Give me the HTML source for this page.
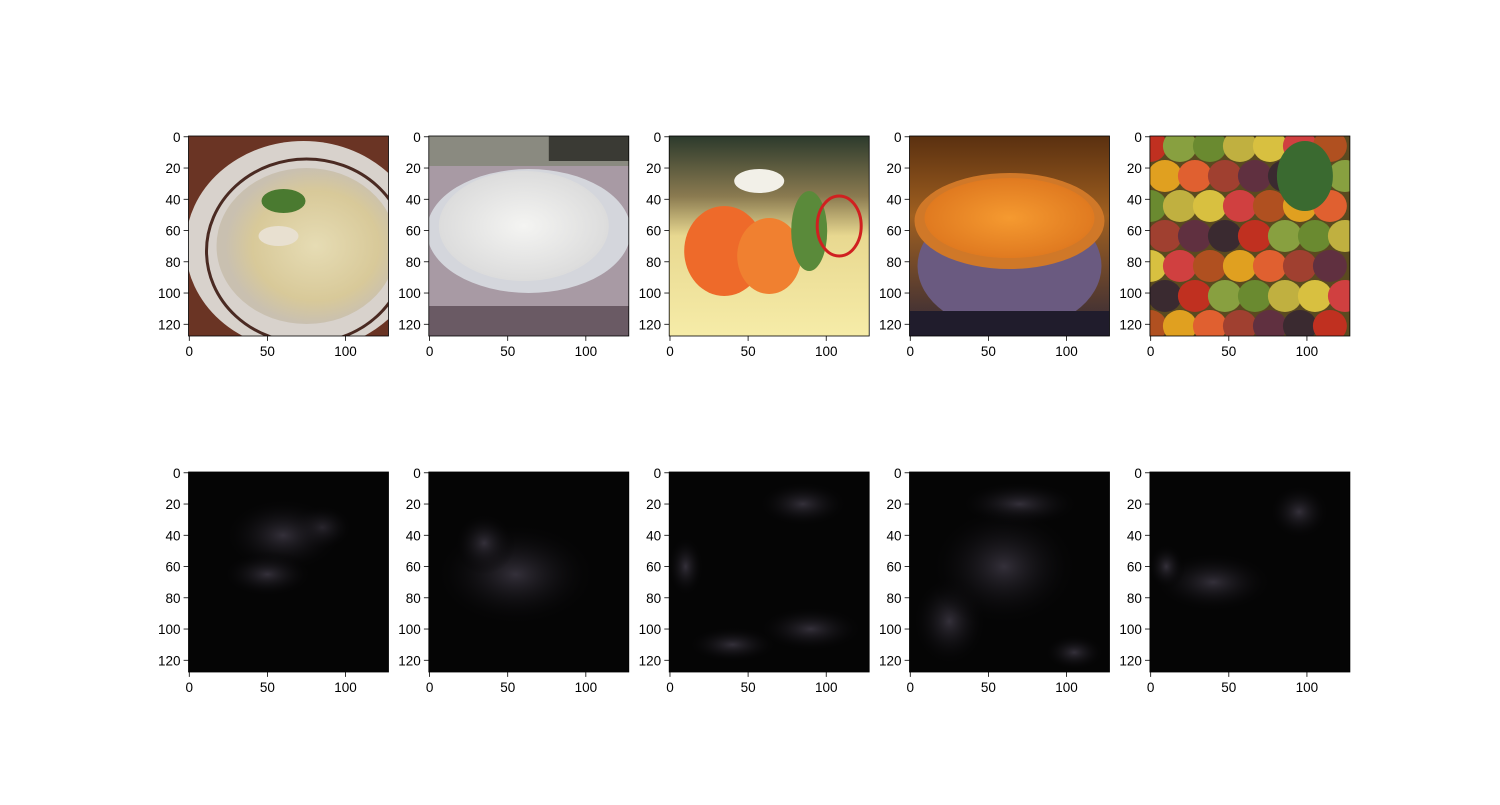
<!DOCTYPE html>
<html><head><meta charset="utf-8"><style>
body{margin:0;background:#fff;}
svg text{font-family:"Liberation Sans","DejaVu Sans",sans-serif;font-size:13.5px;fill:#000;}
</style></head><body>
<svg id="fig" width="1500" height="800" xmlns="http://www.w3.org/2000/svg">
<defs>
<radialGradient id="gPasta" cx="0.55" cy="0.5" r="0.5"><stop offset="0" stop-color="#e6dcb4"/><stop offset="0.7" stop-color="#d8c999"/><stop offset="1" stop-color="#c9c0b0"/></radialGradient>
<radialGradient id="gRice" cx="0.5" cy="0.5" r="0.5"><stop offset="0" stop-color="#f4f4f2"/><stop offset="1" stop-color="#dcdcdc"/></radialGradient>
<linearGradient id="gSalBg" x1="0" y1="0" x2="0" y2="1"><stop offset="0" stop-color="#2c3a2c"/><stop offset="0.3" stop-color="#8a7a50"/><stop offset="0.5" stop-color="#e8d890"/><stop offset="1" stop-color="#f6eca8"/></linearGradient>
<linearGradient id="gSoupBg" x1="0" y1="0" x2="0" y2="1"><stop offset="0" stop-color="#5a3010"/><stop offset="0.4" stop-color="#a06020"/><stop offset="1" stop-color="#302838"/></linearGradient>
<radialGradient id="gSoup" cx="0.5" cy="0.5" r="0.5"><stop offset="0" stop-color="#f59a30"/><stop offset="1" stop-color="#e07a20"/></radialGradient>
<radialGradient id="gHeat" cx="0.5" cy="0.5" r="0.5"><stop offset="0" stop-color="#34303a"/><stop offset="1" stop-color="#000" stop-opacity="0"/></radialGradient>
</defs>
<g id="axes"></g>
</svg>
<script>
const tickValuesX=[0,50,100];
const tickValuesY=[0,20,40,60,80,100,120];
const imageSize=128;
const panelNames=['spaghetti','rice','salmon','soup','fruit'];
const colLeft=[188.5,428.8,669.2,909.5,1149.9];
const rowTop=[136,472];
const W=200,H=200;
const NS='http://www.w3.org/2000/svg';
const root=document.getElementById('axes');
function el(t,a,p){const e=document.createElementNS(NS,t);for(const k in a)e.setAttribute(k,a[k]);(p||root).appendChild(e);return e;}
function sx(v,x0){return x0+(v+0.5)*W/imageSize;}
function sy(v,y0){return y0+(v+0.5)*H/imageSize;}
function drawImg(g,kind,x,y){
  const cp='clip'+x+'_'+y;
  const c=el('clipPath',{id:cp},g);el('rect',{x:x,y:y,width:W,height:H},c);
  const i=el('g',{'clip-path':'url(#'+cp+')'},g);
  const R=(a)=>el('rect',a,i),E=(a)=>el('ellipse',a,i);
  if(kind==='spaghetti'){R({x:x,y:y,width:W,height:H,fill:'#6a3424'});E({cx:x+115,cy:y+110,rx:118,ry:105,fill:'#d8d2cc'});E({cx:x+118,cy:y+115,rx:100,ry:92,fill:'none',stroke:'#4a2a22','stroke-width':3});E({cx:x+118,cy:y+110,rx:90,ry:78,fill:'url(#gPasta)'});E({cx:x+95,cy:y+65,rx:22,ry:12,fill:'#4a7a30'});E({cx:x+90,cy:y+100,rx:20,ry:10,fill:'#e8e0d0'});}
  else if(kind==='rice'){R({x:x,y:y,width:W,height:H,fill:'#a89aa4'});R({x:x,y:y,width:W,height:30,fill:'#8a8a80'});R({x:x+120,y:y,width:80,height:25,fill:'#3a3a34'});E({cx:x+100,cy:y+95,rx:102,ry:62,fill:'#d4d6dc'});E({cx:x+95,cy:y+90,rx:85,ry:55,fill:'url(#gRice)'});R({x:x,y:y+170,width:W,height:30,fill:'#6a5a64'});}
  else if(kind==='salmon'){R({x:x,y:y,width:W,height:H,fill:'url(#gSalBg)'});E({cx:x+90,cy:y+45,rx:25,ry:12,fill:'#f2f0e8'});E({cx:x+55,cy:y+115,rx:40,ry:45,fill:'#ee6a2a'});E({cx:x+100,cy:y+120,rx:32,ry:38,fill:'#f08030'});E({cx:x+140,cy:y+95,rx:18,ry:40,fill:'#5a8a3a'});E({cx:x+170,cy:y+90,rx:22,ry:30,fill:'none',stroke:'#d02020','stroke-width':3});}
  else if(kind==='soup'){R({x:x,y:y,width:W,height:H,fill:'url(#gSoupBg)'});E({cx:x+100,cy:y+130,rx:92,ry:65,fill:'#6a5a80'});E({cx:x+100,cy:y+85,rx:95,ry:48,fill:'#d07828'});E({cx:x+100,cy:y+82,rx:85,ry:40,fill:'url(#gSoup)'});R({x:x,y:y+175,width:W,height:25,fill:'#201c2c'});}
  else if(kind==='fruit'){R({x:x,y:y,width:W,height:H,fill:'#5a4a20'});const cols=['#c03020','#e0a020','#6a8a30','#a04030','#d8c040','#3a2a30','#b05020','#88a040','#e06030','#c0b040','#603040','#d04040'];
    let k=0;for(let r=0;r<7;r++)for(let q=0;q<7;q++){E({cx:x+q*30+(r%2)*15,cy:y+r*30+10,rx:17,ry:16,fill:cols[(k++*7)%cols.length]});}
    E({cx:x+155,cy:y+40,rx:28,ry:35,fill:'#3a6a30'});}
  else {R({x:x,y:y,width:W,height:H,fill:'#030303'});}
}
function heat(g,x,y,blobs){
  const cp='hc'+x+'_'+y;const c=el('clipPath',{id:cp},g);el('rect',{x:x,y:y,width:W,height:H},c);
  const i=el('g',{'clip-path':'url(#'+cp+')'},g);
  el('rect',{x:x,y:y,width:W,height:H,fill:'#050505'},i);
  blobs.forEach(b=>el('ellipse',{cx:sx(b[0],x),cy:sy(b[1],y),rx:b[2]*W/imageSize,ry:b[3]*H/imageSize,fill:'url(#gHeat)'},i));
}
const heatBlobs=[
 [[85,35,20,15],[60,40,40,25],[50,65,30,15]],
 [[55,65,55,35],[35,45,20,20]],
 [[85,20,30,15],[90,100,35,15],[40,110,30,12],[10,60,12,20]],
 [[70,20,40,15],[25,95,25,30],[105,115,20,12],[60,60,50,40]],
 [[95,25,20,18],[40,70,40,20],[10,60,12,15]]
];
for(let r=0;r<2;r++)for(let c=0;c<5;c++){
  const x=colLeft[c],y=rowTop[r];
  const g=el('g',{});
  
  
  if(r===0)drawImg(g,panelNames[c],x,y);else heat(g,x,y,heatBlobs[c]);
  const fr=el('rect',{x:x,y:y,width:W,height:H,fill:'none',stroke:'#000','stroke-width':0.8},g);
  
  
  tickValuesX.forEach(v=>{const px=sx(v,x);
    el('line',{x1:px,y1:y+H,x2:px,y2:y+H+4.9,stroke:'#000','stroke-width':0.8},g);
    const t=el('text',{x:px,y:y+H+20,'text-anchor':'middle'},g);t.textContent=v;
    
    });
  tickValuesY.forEach(v=>{const py=sy(v,y);
    el('line',{x1:x,y1:py,x2:x-4.9,y2:py,stroke:'#000','stroke-width':0.8},g);
    const t=el('text',{x:x-8,y:py+5,'text-anchor':'end'},g);t.textContent=v;
    
    });
}
</script>
</body></html>
